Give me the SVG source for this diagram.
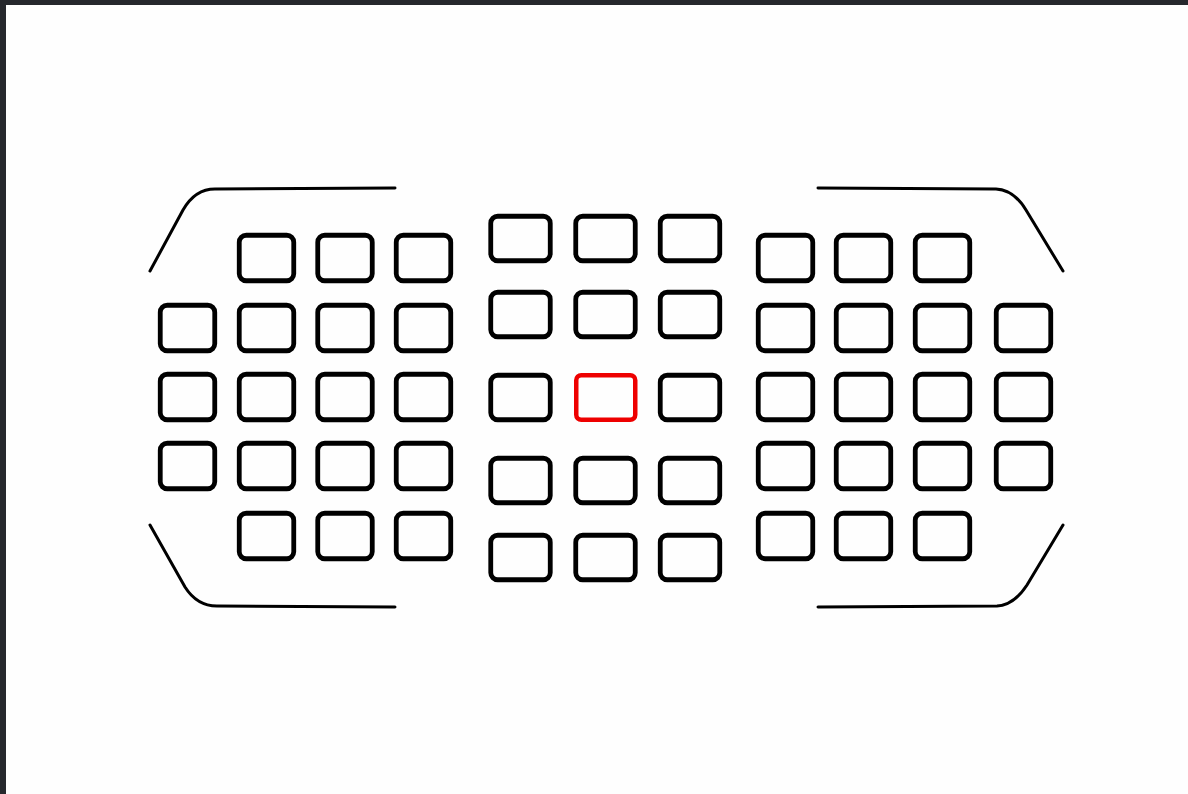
<svg xmlns="http://www.w3.org/2000/svg" width="1188" height="794" viewBox="0 0 1188 794">
<style>
.pt{fill:none;stroke:#000;stroke-width:4.8}
.sel{fill:none;stroke:#ee0000;stroke-width:4.5}
.fr{fill:none;stroke:#000;stroke-width:3;stroke-linecap:round;stroke-linejoin:round}
</style>
<rect x="0" y="0" width="1188" height="794" fill="#fefefe"/>
<rect x="0" y="0" width="1188" height="5" fill="#26282d"/>
<rect x="0" y="0" width="6" height="794" fill="#26282d"/>
<g id="frame">
<path class="fr" d="M150,271 L183,210 Q195,189 215,189 L395,188"/>
<path class="fr" d="M818,188 L996,189 Q1014,190 1026,210 L1063,271"/>
<path class="fr" d="M150,525 L185,587 Q197,606 217,606 L395,607"/>
<path class="fr" d="M818,607 L997,606 Q1014,605 1027,585 L1063,525"/>
</g>
<g id="left">
<g id="L1-1"><rect class="pt" x="239.25" y="235.25" width="54.5" height="45.5" rx="7"/></g>
<g id="L1-2"><rect class="pt" x="317.75" y="235.25" width="54.5" height="45.5" rx="7"/></g>
<g id="L1-3"><rect class="pt" x="396.25" y="235.25" width="54.5" height="45.5" rx="7"/></g>
<g id="L2-0"><rect class="pt" x="160.25" y="305.25" width="54.5" height="45.5" rx="7"/></g>
<g id="L2-1"><rect class="pt" x="239.25" y="305.25" width="54.5" height="45.5" rx="7"/></g>
<g id="L2-2"><rect class="pt" x="317.75" y="305.25" width="54.5" height="45.5" rx="7"/></g>
<g id="L2-3"><rect class="pt" x="396.25" y="305.25" width="54.5" height="45.5" rx="7"/></g>
<g id="L3-0"><rect class="pt" x="160.25" y="374.25" width="54.5" height="45.5" rx="7"/></g>
<g id="L3-1"><rect class="pt" x="239.25" y="374.25" width="54.5" height="45.5" rx="7"/></g>
<g id="L3-2"><rect class="pt" x="317.75" y="374.25" width="54.5" height="45.5" rx="7"/></g>
<g id="L3-3"><rect class="pt" x="396.25" y="374.25" width="54.5" height="45.5" rx="7"/></g>
<g id="L4-0"><rect class="pt" x="160.25" y="443.25" width="54.5" height="45.5" rx="7"/></g>
<g id="L4-1"><rect class="pt" x="239.25" y="443.25" width="54.5" height="45.5" rx="7"/></g>
<g id="L4-2"><rect class="pt" x="317.75" y="443.25" width="54.5" height="45.5" rx="7"/></g>
<g id="L4-3"><rect class="pt" x="396.25" y="443.25" width="54.5" height="45.5" rx="7"/></g>
<g id="L5-1"><rect class="pt" x="239.25" y="513.25" width="54.5" height="45.5" rx="7"/></g>
<g id="L5-2"><rect class="pt" x="317.75" y="513.25" width="54.5" height="45.5" rx="7"/></g>
<g id="L5-3"><rect class="pt" x="396.25" y="513.25" width="54.5" height="45.5" rx="7"/></g>
</g>
<g id="center">
<g id="C1-0"><rect class="pt" x="490.75" y="216.25" width="59.5" height="44.5" rx="7"/></g>
<g id="C1-1"><rect class="pt" x="575.75" y="216.25" width="59.5" height="44.5" rx="7"/></g>
<g id="C1-2"><rect class="pt" x="660.25" y="216.25" width="59.5" height="44.5" rx="7"/></g>
<g id="C2-0"><rect class="pt" x="490.75" y="292.25" width="59.5" height="44.5" rx="7"/></g>
<g id="C2-1"><rect class="pt" x="575.75" y="292.25" width="59.5" height="44.5" rx="7"/></g>
<g id="C2-2"><rect class="pt" x="660.25" y="292.25" width="59.5" height="44.5" rx="7"/></g>
<g id="C3-0"><rect class="pt" x="490.75" y="375.25" width="59.5" height="44.5" rx="7"/></g>
<g id="C3-1"><rect class="sel" x="576.25" y="375.25" width="59" height="44.5" rx="5"/></g>
<g id="C3-2"><rect class="pt" x="660.25" y="375.25" width="59.5" height="44.5" rx="7"/></g>
<g id="C4-0"><rect class="pt" x="490.75" y="458.25" width="59.5" height="44.5" rx="7"/></g>
<g id="C4-1"><rect class="pt" x="575.75" y="458.25" width="59.5" height="44.5" rx="7"/></g>
<g id="C4-2"><rect class="pt" x="660.25" y="458.25" width="59.5" height="44.5" rx="7"/></g>
<g id="C5-0"><rect class="pt" x="490.75" y="535.25" width="59.5" height="44.5" rx="7"/></g>
<g id="C5-1"><rect class="pt" x="575.75" y="535.25" width="59.5" height="44.5" rx="7"/></g>
<g id="C5-2"><rect class="pt" x="660.25" y="535.25" width="59.5" height="44.5" rx="7"/></g>
</g>
<g id="right">
<g id="R1-0"><rect class="pt" x="758.25" y="235.25" width="54.5" height="45.5" rx="7"/></g>
<g id="R1-1"><rect class="pt" x="836.25" y="235.25" width="54.5" height="45.5" rx="7"/></g>
<g id="R1-2"><rect class="pt" x="915.25" y="235.25" width="54.5" height="45.5" rx="7"/></g>
<g id="R2-0"><rect class="pt" x="758.25" y="305.25" width="54.5" height="45.5" rx="7"/></g>
<g id="R2-1"><rect class="pt" x="836.25" y="305.25" width="54.5" height="45.5" rx="7"/></g>
<g id="R2-2"><rect class="pt" x="915.25" y="305.25" width="54.5" height="45.5" rx="7"/></g>
<g id="R2-3"><rect class="pt" x="996.25" y="305.25" width="54.5" height="45.5" rx="7"/></g>
<g id="R3-0"><rect class="pt" x="758.25" y="374.25" width="54.5" height="45.5" rx="7"/></g>
<g id="R3-1"><rect class="pt" x="836.25" y="374.25" width="54.5" height="45.5" rx="7"/></g>
<g id="R3-2"><rect class="pt" x="915.25" y="374.25" width="54.5" height="45.5" rx="7"/></g>
<g id="R3-3"><rect class="pt" x="996.25" y="374.25" width="54.5" height="45.5" rx="7"/></g>
<g id="R4-0"><rect class="pt" x="758.25" y="443.25" width="54.5" height="45.5" rx="7"/></g>
<g id="R4-1"><rect class="pt" x="836.25" y="443.25" width="54.5" height="45.5" rx="7"/></g>
<g id="R4-2"><rect class="pt" x="915.25" y="443.25" width="54.5" height="45.5" rx="7"/></g>
<g id="R4-3"><rect class="pt" x="996.25" y="443.25" width="54.5" height="45.5" rx="7"/></g>
<g id="R5-0"><rect class="pt" x="758.25" y="513.25" width="54.5" height="45.5" rx="7"/></g>
<g id="R5-1"><rect class="pt" x="836.25" y="513.25" width="54.5" height="45.5" rx="7"/></g>
<g id="R5-2"><rect class="pt" x="915.25" y="513.25" width="54.5" height="45.5" rx="7"/></g>
</g>
</svg>
